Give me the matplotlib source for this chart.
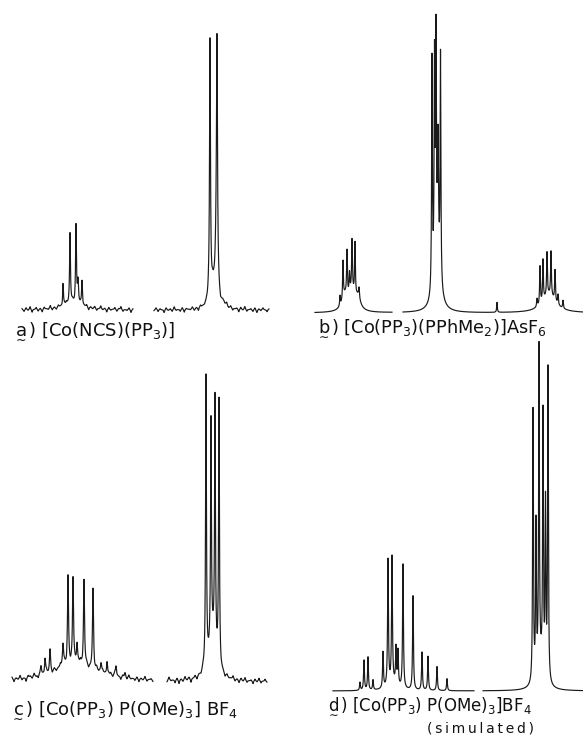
import numpy as np
import matplotlib.pyplot as plt

W, H = 583, 743

# --- peak lists (position, height, half width), panel pixel scale ---
# a) [Co(NCS)(PP3)]
a_pos = [73, 63, 70, 76, 78, 82, 210, 217, 216.6, 213.5, 224]
a_hgt = [7, 23, 70, 76, 22, 25, 258, 200, 70, 20, 4]
a_wid = [12, 0.5, 0.5, 0.5, 0.6, 0.5, 0.55, 0.55, 1.2, 4.0, 2.0]
a_segments = [(22, 133), (154, 269)]
a_noise_left = [1, -2, 2, -1, 3, -3, 0, 2, -2, 1, -3, 2, 0, -1, 3, -2, 1, -2, 2, 0,
                -3, 1, 2, -1, 0, 2, -2, 3, -1, 1, -2, 0, 2, -3, 1, -1, 2, -2, 0, 3,
                -1, 1, -3, 2, -1, 0, 2, -2, 1, 3, -2, 0, -1, 2, -3, 1]
a_noise_right = [-1, 2, -2, 1, 0, -3, 2, -1, 1, -2, 3, -1, 0, -2, 2, -3, 1, 0, -1, 2,
                 -2, 1, -3, 2, 0, -1, 1, 2, -2, 3, -1, 0, 2, -3, 1, -2, 3, -1, 2, -2,
                 0, 1, -3, 2, -1, 3, -2, 0, 1, -2, 2, -3, 1, -1, 2, 0, -2, 1]

# b) [Co(PP3)(PPhMe2)]AsF6
b_pos = [345, 352, 358, 340, 343, 347, 349.5, 352, 355, 359,
         436, 432, 434.5, 440.5, 438, 437,
         497,
         549, 537, 540, 543, 547, 551, 555, 558, 563]
b_hgt = [14, 17, 11, 10, 38, 44, 20, 50, 52, 10,
         220, 232, 210, 228, 120, 50,
         10,
         18, 8, 38, 41, 43, 44, 31, 10, 8]
b_wid = [3.5, 4.0, 3.0, 0.4, 0.45, 0.45, 0.5, 0.45, 0.45, 0.5,
         0.45, 0.45, 0.45, 0.45, 0.6, 3.5,
         0.4,
         8.0, 0.45, 0.45, 0.45, 0.45, 0.45, 0.45, 0.45, 0.45]
b_segments = [(315, 392), (403, 583)]

# c) [Co(PP3)P(OMe)3]BF4
c_pos = [75, 41, 45, 50, 63, 68, 73, 77, 84, 93, 101, 107, 116, 125,
         206, 211, 215, 219, 212.5]
c_hgt = [18, 8, 15, 22, 22, 88, 85, 20, 86, 80, 10, 14, 10, 4,
         290, 222, 251, 262, 38]
c_wid = [28, 0.6, 0.6, 0.6, 0.7, 0.6, 0.6, 0.7, 0.6, 0.6, 0.7, 0.6, 0.7, 0.7,
         0.5, 0.5, 0.5, 0.5, 5.0]
c_segments = [(12, 153), (167, 267)]
c_noise_left = [2, -3, 1, -1, 3, -2, 0, -4, 2, 1, -2, 3, -1, -3, 2, 0, -2, 3, -1, 1,
                -3, 2, -2, 0, 3, -1, 2, -3, 1, -2, 0, 2, -3, 1, 3, -2, -1, 2, -3, 0,
                1, -2, 3, -1, -2, 2, 0, -3, 1, 2, -2, 3, -1, 0, -3, 2, 1, -2, 3, -1,
                0, -2, 2, -3, 1, -1, 3, -2, 0, 1, -2]
c_noise_right = [-2, 3, -1, 0, -3, 2, -4, 1, -2, 3, -1, 2, -4, 0, 2, -3, 1, -2, 3, -1,
                 0, -2, 1, 2, -1, 0, 3, -2, 1, -3, 2, -1, 0, 3, -2, 1, -3, 2, -1, 3,
                 -2, 0, 1, -3, 2, -1, 3, -2, 0, 2, -1]

# d) simulated
d_pos = [393, 360, 364, 368, 373, 383, 388, 392, 396, 398, 403, 413, 422, 428, 437, 447,
         533, 539, 543, 548, 536, 545.5, 540.5]
d_hgt = [7, 8, 30, 33, 10, 36, 126, 126, 36, 34, 124, 94, 38, 34, 24, 12,
         272, 318, 255, 312, 150, 170, 25]
d_wid = [6, 0.5, 0.5, 0.5, 0.5, 0.5, 0.5, 0.5, 0.5, 0.5, 0.5, 0.5, 0.5, 0.5, 0.5, 0.5,
         0.45, 0.45, 0.45, 0.45, 0.45, 0.45, 4.0]
d_segments = [(333, 474), (483, 583)]


# letter with the wavy underline, as in the original figure
def tag(ch):
    return r"$\underset{\sim}{\mathregular{%s}}$)" % ch


labels = [tag("a") + " [Co(NCS)(PP$_3$)]",
          tag("b") + " [Co(PP$_3$)(PPhMe$_2$)]AsF$_6$",
          tag("c") + " [Co(PP$_3$) P(OMe)$_3$] BF$_4$",
          tag("d") + " [Co(PP$_3$) P(OMe)$_3$]BF$_4$"]
label_size = [13, 12.8, 13, 12]


def lorentz(x, pos, hgt, wid):
    y = np.zeros_like(x)
    for p, h, w in zip(pos, hgt, wid):
        y += h * w ** 2 / (w ** 2 + (x - p) ** 2)
    return y


def panel(x0, x1, yb, ytop):
    ax = fig.add_axes([x0 / W, 1 - (yb + 20) / H, (x1 - x0) / W, (yb + 20 - ytop) / H])
    ax.set_xlim(x0, x1)
    ax.set_ylim(-20, yb - ytop)
    ax.axis('off')
    ax.patch.set_visible(False)
    return ax


def draw(ax, segments, pos, hgt, wid, noises=None):
    for i, (s, e) in enumerate(segments):
        x = np.arange(s, e, 0.05)
        y = lorentz(x, pos, hgt, wid)
        if noises is not None:
            nz = noises[i]
            y += lorentz(x, np.linspace(s, e, len(nz)), nz, [0.55] * len(nz))
        ax.plot(x, y, color='#1a1a1a', lw=0.85, clip_on=False)


fig = plt.figure(figsize=(W / 100, H / 100), dpi=100)

ax_a = panel(0, 291, 310, 0)
draw(ax_a, a_segments, a_pos, a_hgt, a_wid, [a_noise_left, a_noise_right])
ax_b = panel(291, 583, 313, 0)
draw(ax_b, b_segments, b_pos, b_hgt, b_wid)
ax_c = panel(0, 291, 682, 340)
draw(ax_c, c_segments, c_pos, c_hgt, c_wid, [c_noise_left, c_noise_right])
ax_d = panel(291, 583, 691, 320)
draw(ax_d, d_segments, d_pos, d_hgt, d_wid)

# panel captions
label_xy = [(13, 334), (316, 331), (10, 713), (326, 709)]
for (lx, ly), txt, fs in zip(label_xy, labels, label_size):
    fig.text(lx / W, 1 - ly / H, txt, fontsize=fs, va='baseline', ha='left', color='#111')
fig.text(427 / W, 1 - 728 / H, "(\u2009s\u2009i\u2009m\u2009u\u2009l\u2009a\u2009t\u2009e\u2009d\u2009)",
         fontsize=10, va='center', ha='left', color='#111')

fig.savefig("out.png", dpi=100)
